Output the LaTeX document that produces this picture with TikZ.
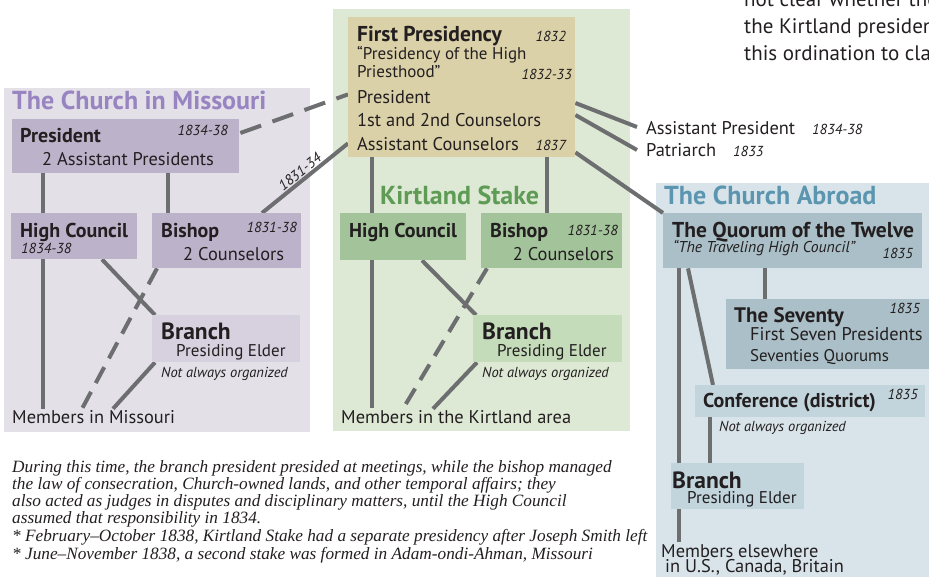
\documentclass[tikz,border=0pt]{standalone}
\usepackage{fontspec}
\setmainfont{PT Sans}
\newfontfamily\notefont{Liberation Serif}
\usetikzlibrary{calc}
\pgfdeclarelayer{panel}
\pgfdeclarelayer{lines}
\pgfsetlayers{panel,lines,main}
\definecolor{ink}{HTML}{231F20}
\definecolor{linec}{HTML}{6D6E70}
\definecolor{mbg}{HTML}{E3E0E8}
\definecolor{mbox}{HTML}{BCB3CB}
\definecolor{mlight}{HTML}{D6D0DF}
\definecolor{mtitle}{HTML}{9884C1}
\definecolor{kbg}{HTML}{DDE8D5}
\definecolor{fpc}{HTML}{DBD1A8}
\definecolor{kbox}{HTML}{A3C49B}
\definecolor{klight}{HTML}{C4DCB9}
\definecolor{ktitle}{HTML}{5E9C55}
\definecolor{abg}{HTML}{D8E4EA}
\definecolor{abox}{HTML}{AABFC7}
\definecolor{alight}{HTML}{C2D5DD}
\definecolor{atitle}{HTML}{5B95B0}
\tikzset{
  box/.style={draw=none, fill=#1, inner sep=0pt, anchor=north west},
  txt/.style={inner sep=0pt, anchor=base west, text=ink, font=\fontsize{18.4}{21}\selectfont},
  sub/.style={inner sep=0pt, anchor=base west, text=ink, font=\fontsize{17}{19}\selectfont},
  hd/.style={inner sep=0pt, anchor=base west, text=ink, font=\fontsize{20}{23}\selectfont\bfseries},
  bighd/.style={inner sep=0pt, anchor=base west, text=ink, font=\fontsize{21.5}{24}\selectfont\bfseries},
  brh/.style={inner sep=0pt, anchor=base west, text=ink, font=\fontsize{23.5}{26}\selectfont\bfseries},
  dt/.style={inner sep=0pt, anchor=base east, text=ink, font=\fontsize{14.5}{17}\selectfont\itshape},
  dtw/.style={inner sep=0pt, anchor=base west, text=ink, font=\fontsize{14.5}{17}\selectfont\itshape},
  ptitle/.style={inner sep=0pt, anchor=base west, text=#1, font=\fontsize{26}{29}\selectfont\bfseries},
  note/.style={inner sep=0pt, anchor=base west, text=ink, font=\fontsize{17.25}{19}\selectfont\notefont\itshape},
  toptxt/.style={inner sep=0pt, anchor=base west, text=ink, font=\fontsize{21}{27}\selectfont},
  conn/.style={draw=linec, line width=4pt},
  dconn/.style={draw=linec, line width=4pt, dash pattern=on 18pt off 10pt},
}
\begin{document}
\begin{tikzpicture}[x=1pt,y=-1pt]
\useasboundingbox (0,0) rectangle (929,577);
% panels
\begin{pgfonlayer}{panel}
\fill[mbg] (4,88) rectangle (310,432);
\fill[kbg] (333,9) rectangle (630,431);
\fill[abg] (656,183) rectangle (935,580);
\end{pgfonlayer}

% ---------------- Missouri ----------------
\node[ptitle=mtitle] (mtit) at (12,110) {The Church in Missouri};
\node[box=mbox, minimum width=227pt, minimum height=54pt] (mpres) at (12,119) {};
\node[hd] (mpresA) at (20,143) {President};
\node[dt] (mpresB) at (228,136) {1834-38};
\node[txt] (mpresC) at (42,166) {2 Assistant Presidents};

\node[box=mbox, minimum width=126pt, minimum height=46pt] (mhc) at (11,213) {};
\node[hd] (mhcA) at (20,238) {High Council};
\node[dtw] (mhcB) at (21,254) {1834-38};

\node[box=mbox, minimum width=149pt, minimum height=55pt] (mbis) at (152,213) {};
\node[hd] (mbisA) at (161,238) {Bishop};
\node[dt] (mbisB) at (297,233) {1831-38};
\node[txt] (mbisC) at (183,261) {2 Counselors};

\node[box=mlight, minimum width=148pt, minimum height=47pt] (mbr) at (152,315) {};
\node[brh] (mbrA) at (161,339) {Branch};
\node[sub] (mbrB) at (176,356) {Presiding Elder};
\node[dtw] (mbrC) at (161,377) {Not always organized};

\node[txt] (mmem) at (12,423) {Members in Missouri};

% ---------------- Kirtland ----------------
\node[box=fpc, minimum width=227pt, minimum height=140pt] (fp) at (348,17) {};
\node[bighd] (fpA) at (357,42) {First Presidency};
\node[dt] (fpB) at (566,42) {1832};
\node[sub] (fpC) at (357,60) {“Presidency of the High};
\node[sub] (fpD) at (357,78) {Priesthood”};
\node[dt] (fpE) at (572,80) {1832-33};
\node[txt] (fpF) at (357,104) {President};
\node[txt] (fpG) at (357,127) {1st and 2nd Counselors};
\node[txt] (fpH) at (357,151) {Assistant Counselors};
\node[dt] (fpI) at (566,151) {1837};

\node[ptitle=ktitle] (ktit) at (380,205) {Kirtland Stake};

\node[box=kbox, minimum width=126pt, minimum height=47pt] (khc) at (340,213) {};
\node[hd] (khcA) at (349,238) {High Council};

\node[box=kbox, minimum width=141pt, minimum height=55pt] (kbis) at (481,213) {};
\node[hd] (kbisA) at (490,238) {Bishop};
\node[dt] (kbisB) at (618,236) {1831-38};
\node[inner sep=0pt, anchor=base east, text=ink, font=\fontsize{18.4}{21}\selectfont] (kbisC) at (614,261) {2 Counselors};

\node[box=klight, minimum width=149pt, minimum height=47pt] (kbr) at (473,315) {};
\node[brh] (kbrA) at (482,339) {Branch};
\node[sub] (kbrB) at (497,356) {Presiding Elder};
\node[dtw] (kbrC) at (482,377) {Not always organized};

\node[txt] (kmem) at (341,423) {Members in the Kirtland area};

% ---------------- side offices ----------------
\node[txt] (ap) at (646,135) {Assistant President};
\node[dtw] (apB) at (812,135) {1834-38};
\node[txt] (pat) at (646,157) {Patriarch};
\node[dtw] (patB) at (733,157) {1833};

\begin{scope}
\clip (0,0) rectangle (929,577);
\node[toptxt] (tr1) at (744,7) {not clear whether the};
\node[toptxt] (tr2) at (744,34) {the Kirtland presidency};
\node[toptxt] (tr3) at (744,61) {this ordination to clarify};
\end{scope}

% ---------------- Abroad ----------------
\node[ptitle=atitle] (atit) at (664,205) {The Church Abroad};
\node[box=abox, minimum width=259pt, minimum height=55pt] (qu) at (663,213) {};
\node[bighd] (quA) at (672,238) {The Quorum of the Twelve};
\node[inner sep=0pt, anchor=base west, text=ink, font=\fontsize{15.7}{18}\selectfont\itshape] (quB) at (673,253) {“The Traveling High Council”};
\node[dt] (quC) at (913,259) {1835};

\node[box=abox, minimum width=210pt, minimum height=70pt] (sev) at (726,299) {};
\node[inner sep=0pt, anchor=base west, text=ink, font=\fontsize{21}{24}\selectfont\bfseries] (sevA) at (734,323) {The Seventy};
\node[dt] (sevB) at (920,313) {1835};
\node[txt] (sevC) at (750,341) {First Seven Presidents};
\node[inner sep=0pt, anchor=base west, text=ink, font=\fontsize{16.9}{19}\selectfont] (sevD) at (750,361) {Seventies Quorums};

\node[box=alight, minimum width=230pt, minimum height=32pt] (conf) at (695,385) {};
\node[hd] (confA) at (703,407) {Conference (district)};
\node[dt] (confB) at (918,399) {1835};
\node[dtw] (confC) at (719,431) {Not always organized};

\node[box=alight, minimum width=133pt, minimum height=46pt] (abr) at (671,463) {};
\node[brh] (abrA) at (672,488) {Branch};
\node[sub] (abrB) at (687,503) {Presiding Elder};

\node[txt] (amem) at (661,557) {Members elsewhere};
\node[txt] (amem2) at (665,572) {in U.S., Canada, Britain};

% ---------------- notes ----------------
\node[note] (n1) at (12,472) {During this time, the branch president presided at meetings, while the bishop managed};
\node[note] (n2) at (12,489) {the law of consecration, Church-owned lands, and other temporal affairs; they};
\node[note] (n3) at (12,506) {also acted as judges in disputes and disciplinary matters, until the High Council};
\node[note] (n4) at (12,523) {assumed that responsibility in 1834.};
\node[note] (n5) at (12,541) {* February–October 1838, Kirtland Stake had a separate presidency after Joseph Smith left};
\node[note] (n6) at (12,559) {* June–November 1838, a second stake was formed in Adam-ondi-Ahman, Missouri};

% ---------------- connectors ----------------
\begin{pgfonlayer}{lines}
% Missouri
\draw[conn] ($(mpres.south west)+(31,0)$) coordinate (ma) -- ($(ma |- mmem.north)+(0,-1)$);
\draw[conn] ($(mpres.south west)+(156,0)$) coordinate (mb) -- (mb |- mbis.north);
\draw[conn] ($(mhc.south west)+(91,0)$) -- ($(mbr.north west)+(3,0)$);
\draw[dconn] ($(mbis.south west)+(5,0)$) -- ($(mmem.north west)+(70,-1)$);
\draw[conn] ($(mbr.south west)+(3,0)$) -- ($(mmem.north west)+(101,-1)$);
\draw[conn] ($(mbis.north west)+(110,0)$) -- node[pos=0.5, sloped, above=1pt, inner sep=0pt, text=ink, font=\fontsize{14.5}{17}\selectfont\itshape] (lab1) {1831-34} ($(fp.south west)+(0,-14)$);
\draw[dconn, dash pattern=on 22pt off 12pt] ($(mpres.north east)+(1,14)$) -- ($(fp.south west)+(0,-63)$);
% Kirtland
\draw[conn] ($(fp.south west)+(24,0)$) coordinate (ka) -- ($(ka |- kmem.north)+(0,-2)$);
\draw[conn] ($(fp.south west)+(199,0)$) coordinate (kb) -- (kb |- kbis.north);
\draw[conn] ($(khc.south west)+(82,0)$) -- ($(kbr.north west)+(3,0)$);
\draw[dconn] ($(kbis.south west)+(6,0)$) -- ($(kmem.north west)+(62,-1)$);
\draw[conn] ($(kbr.south west)+(4,0)$) -- ($(kmem.north west)+(92,-1)$);
% side
\draw[conn] ($(fp.north east)+(0,86)$) -- ($(ap.base west)+(-9,-8)$);
\draw[conn] ($(fp.north east)+(0,98)$) -- ($(pat.base west)+(-9,-7)$);
\draw[conn] ($(fp.south east)+(0,-5)$) -- (qu.north west);
% Abroad
\draw[conn] ($(qu.south west)+(102,0)$) coordinate (aa) -- (aa |- sev.north);
\draw[conn] ($(qu.south west)+(16,0)$) coordinate (ab) -- ($(ab |- amem.north)+(0,-2)$);
\draw[conn] ($(qu.south west)+(25,0)$) -- ($(conf.north west)+(18,0)$);
\draw[conn] ($(conf.south west)+(15,0)$) coordinate (ac) -- (ac |- abr.north);
\end{pgfonlayer}
\end{tikzpicture}
\end{document}
